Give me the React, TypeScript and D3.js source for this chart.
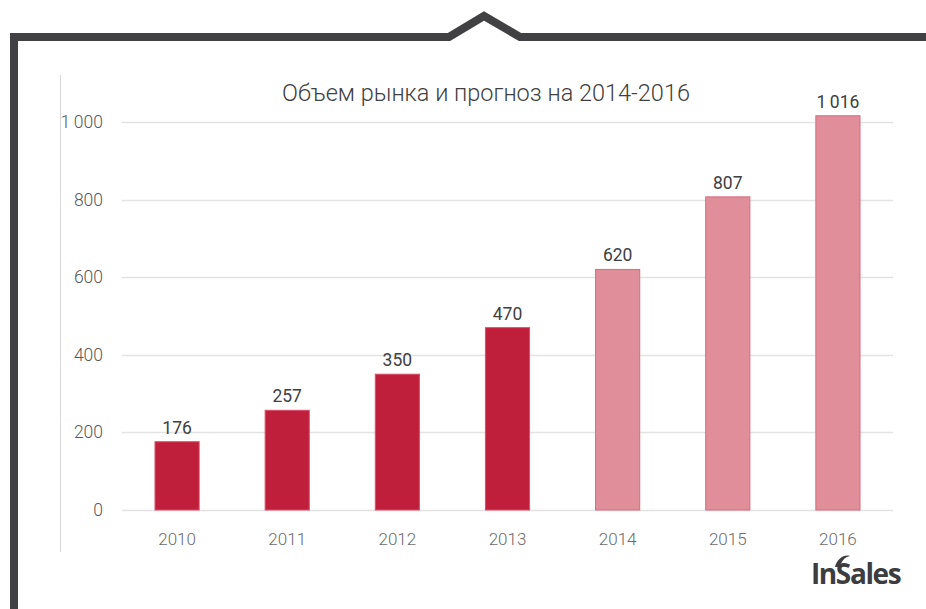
import React from "react";
import * as d3 from "d3";

const years = ["2010", "2011", "2012", "2013", "2014", "2015", "2016"];
const values = [176, 257, 350, 470, 620, 807, 1016];
const forecast = [false, false, false, false, true, true, true];
const yTicks = [0, 200, 400, 600, 800, 1000];
const title = "Объем рынка и прогноз на 2014-2016";

const W = 926;
const H = 609;

export default function App() {
  const x = d3
    .scaleBand<string>()
    .domain(years)
    .range([122, 893])
    .paddingInner(0.59)
    .paddingOuter(0.295);
  const y = d3.scaleLinear().domain([0, 1000]).range([510, 122]);
  const fmt = (v: number) => (v >= 1000 ? d3.format(",")(v).replace(",", "\u2009") : String(v));
  const font = "Roboto, 'Open Sans', sans-serif";

  return (
    <svg
      width={W}
      height={H}
      style={{ position: "absolute", left: 0, top: 0, background: "#fff" }}
      fontFamily={font}
    >
      {/* frame */}
      <path
        d="M14,609 L14,37 L449,37 L484,16 L520,37 L926,37"
        fill="none"
        stroke="#414042"
        strokeWidth={8}
        strokeLinejoin="miter"
      />
      {/* y axis line */}
      <line x1={60.5} x2={60.5} y1={75} y2={552} stroke="#d9d9d9" strokeWidth={1} />
      {/* grid */}
      {yTicks.map((t) => (
        <line
          key={t}
          x1={122}
          x2={893}
          y1={Math.round(y(t)) + 0.5}
          y2={Math.round(y(t)) + 0.5}
          stroke="#e3e3e3"
          strokeWidth={1.5}
        />
      ))}
      {/* y tick labels */}
      {yTicks.map((t) => (
        <text
          key={t}
          x={103}
          y={y(t) + 6}
          textAnchor="end"
          fontSize={17.5}
          fontWeight={300}
          fill="#595959"
        >
          {fmt(t)}
        </text>
      ))}
      {/* title */}
      <text x={486} y={101} textAnchor="middle" fontSize={23.5} fontWeight={300} fill="#404040">
        {title}
      </text>
      {/* bars */}
      {years.map((yr, i) => (
        <rect
          key={yr}
          x={x(yr)! + 0.5}
          y={y(values[i])}
          width={x.bandwidth() - 1}
          height={510 - y(values[i])}
          fill={forecast[i] ? "#e08e9a" : "#c01f3b"}
          stroke={forecast[i] ? "#d86a7b" : "#d9506a"}
          strokeWidth={1}
        />
      ))}
      {/* value labels */}
      {years.map((yr, i) => (
        <text
          key={yr}
          x={x(yr)! + x.bandwidth() / 2}
          y={y(values[i]) - 8}
          textAnchor="middle"
          fontSize={17.5}
          fontWeight={400}
          fill="#404040"
        >
          {fmt(values[i])}
        </text>
      ))}
      {/* category labels */}
      {years.map((yr) => (
        <text
          key={yr}
          x={x(yr)! + x.bandwidth() / 2}
          y={545}
          textAnchor="middle"
          fontSize={17}
          fontWeight={300}
          fill="#6b6b6b"
        >
          {yr}
        </text>
      ))}
      {/* logo */}
      <g>
        <text
          x={811}
          y={584}
          fontSize={28}
          fontWeight={700}
          fill="#3d3d3f"
          fontFamily="'Open Sans', sans-serif"
          letterSpacing={-1.4}
        >
          InSales
        </text>
        <path d="M835,567 C837,559 844,554 850,556 C845,557 841,561 840,567 Z" fill="#3d3d3f" />
      </g>
    </svg>
  );
}
